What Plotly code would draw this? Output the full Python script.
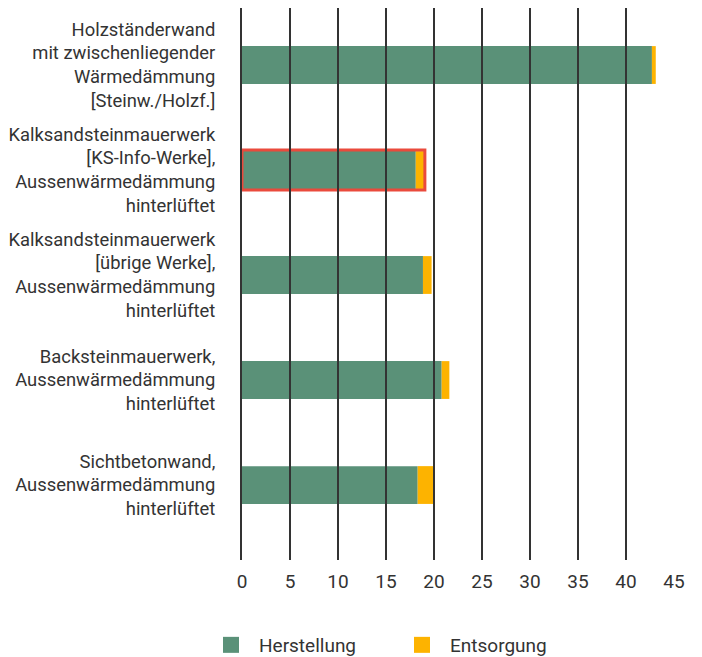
import plotly.graph_objects as go

categories = [
    "Holzständerwand<br>mit zwischenliegender<br>Wärmedämmung<br>[Steinw./Holzf.]",
    "Kalksandsteinmauerwerk<br>[KS-Info-Werke],<br>Aussenwärmedämmung<br>hinterlüftet",
    "Kalksandsteinmauerwerk<br>[übrige Werke],<br>Aussenwärmedämmung<br>hinterlüftet",
    "Backsteinmauerwerk,<br>Aussenwärmedämmung<br>hinterlüftet",
    "Sichtbetonwand,<br>Aussenwärmedämmung<br>hinterlüftet",
]
herstellung = [42.7, 18.1, 18.85, 20.8, 18.3]
entsorgung = [0.4, 0.95, 0.9, 0.8, 1.65]
highlighted = [False, True, False, False, False]
x_ticks = [0, 5, 10, 15, 20, 25, 30, 35, 40, 45]

GREEN = "#5a9178"
ORANGE = "#fdb300"
RED = "#ea4a3c"
TEXT = "#333333"

totals = [h + e for h, e in zip(herstellung, entsorgung)]
hl_vals = [t if f else None for t, f in zip(totals, highlighted)]

W, H = 694, 649  # page body has an 8px default margin

fig = go.Figure()
fig.add_trace(go.Bar(y=categories, x=herstellung, orientation="h",
                     marker=dict(color=GREEN, line=dict(width=0)),
                     width=0.36, showlegend=False, name="Herstellung"))
fig.add_trace(go.Bar(y=categories, x=entsorgung, base=herstellung, orientation="h",
                     marker=dict(color=ORANGE, line=dict(width=0)),
                     width=0.36, showlegend=False, name="Entsorgung"))
fig.add_trace(go.Bar(y=categories, x=hl_vals, orientation="h",
                     marker=dict(color="rgba(0,0,0,0)", line=dict(width=3, color=RED)),
                     width=0.38, showlegend=False, hoverinfo="skip"))
# legend entries
fig.add_trace(go.Scatter(x=[None], y=[None], mode="markers", name="Herstellung",
                         marker=dict(symbol="square", size=16, color=GREEN)))
fig.add_trace(go.Scatter(x=[None], y=[None], mode="markers", name="Entsorgung",
                         marker=dict(symbol="square", size=16, color=ORANGE)))

fig.update_layout(
    width=W, height=H,
    margin=dict(l=234, r=28, t=0, b=97, autoexpand=False),
    barmode="overlay",
    plot_bgcolor="white", paper_bgcolor="white",
    font=dict(family="Roboto", size=19, color=TEXT),
    legend=dict(orientation="h", xref="container", yref="container",
                x=195 / W, xanchor="left", y=1 - 637 / H, yanchor="middle",
                font=dict(size=19, color=TEXT), itemwidth=46, entrywidth=130),
)
fig.update_xaxes(
    range=[0, 45], tickvals=x_ticks, showgrid=False, zeroline=False, showline=False,
    ticks="inside", ticklen=552, tickwidth=2, tickcolor="#333333",
    layer="above traces", tickfont=dict(size=19, color=TEXT), ticklabelstandoff=8,
)
fig.update_yaxes(
    type="category", categoryorder="array", categoryarray=categories,
    range=[4.714, -0.543], showgrid=False, zeroline=False,
    showline=True, linecolor="#333333", linewidth=2, layer="above traces",
    ticks="", ticklabelstandoff=21, tickfont=dict(size=18.4, color=TEXT),
)

fig.write_html("out.html")
